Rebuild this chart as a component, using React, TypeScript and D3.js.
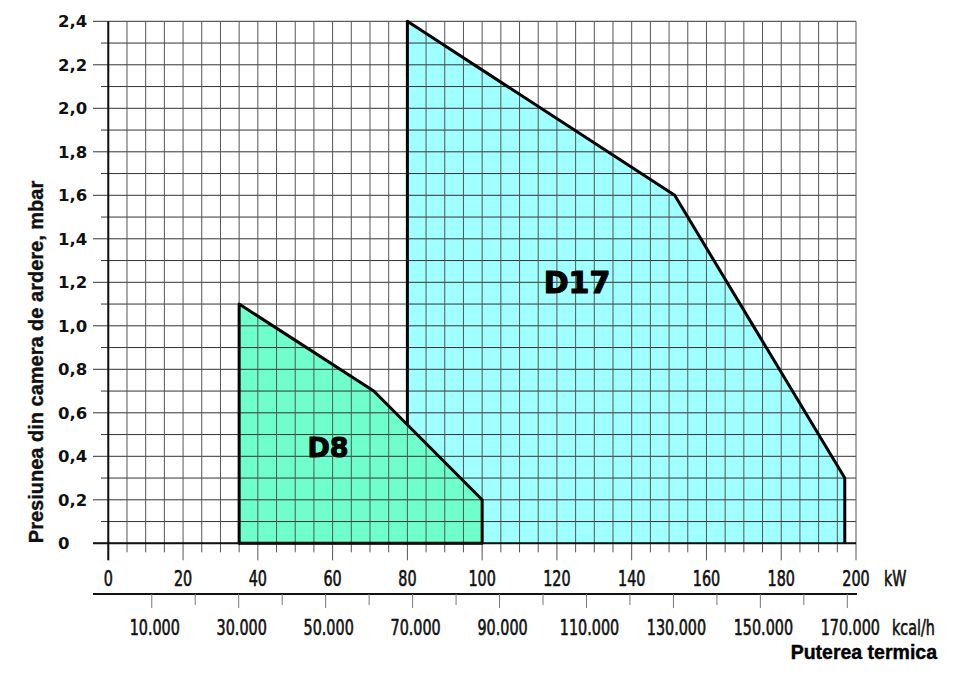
import * as d3 from "d3";

// kW axis labels (top bottom axis)
const KW_TICKS = [0, 20, 40, 60, 80, 100, 120, 140, 160, 180, 200];
// pressure axis labels (mbar)
const MBAR_TICKS = [0, 0.2, 0.4, 0.6, 0.8, 1.0, 1.2, 1.4, 1.6, 1.8, 2.0, 2.2, 2.4];
const MBAR_LABELS = ["0", "0,2", "0,4", "0,6", "0,8", "1,0", "1,2", "1,4", "1,6", "1,8", "2,0", "2,2", "2,4"];
// kcal/h axis
const KCAL_LABELED = [10000, 30000, 50000, 70000, 90000, 110000, 130000, 150000, 170000];
const KCAL_MINOR = [20000, 40000, 60000, 80000, 100000, 120000, 140000, 160000];
const KCAL_LABELS = ["10.000", "30.000", "50.000", "70.000", "90.000", "110.000", "130.000", "150.000", "170.000"];

// working fields
const D8_KW = [35, 35, 71, 100, 100];
const D8_MBAR = [0, 1.1, 0.7, 0.2, 0];
const D17_KW = [80, 80, 151.5, 197, 197];
const D17_MBAR = [0, 2.4, 1.6, 0.3, 0];

const KW_PER_KCAL = 1 / 860;

const width = 960;
const height = 673;

const narrow = "'DejaVu Sans Condensed', 'DejaVu Sans', sans-serif";
const squeeze = 0.76;

// condensed text: the installed fonts are too wide, so squeeze horizontally
const Narrow = ({ x, y, anchor = "start", children }: { x: number; y: number; anchor?: string; children: any }) => (
  <text
    transform={`translate(${x},${y}) scale(${squeeze},1)`}
    textAnchor={anchor}
    fontFamily={narrow}
    fontSize={21}
    fill="#111"
    stroke="#111"
    strokeWidth={0.6}
  >
    {children}
  </text>
);

export default function App() {
  const x = d3.scaleLinear().domain([0, 200]).range([108.3, 856]);
  const y = d3.scaleLinear().domain([0, 2.4]).range([543.3, 21.3]);

  const area = d3
    .line<[number, number]>()
    .x((d) => x(d[0]))
    .y((d) => y(d[1]));

  const d8 = D8_KW.map((k, i) => [k, D8_MBAR[i]] as [number, number]);
  const d17 = D17_KW.map((k, i) => [k, D17_MBAR[i]] as [number, number]);

  const vGrid = d3.range(0, 201, 5);
  const hGrid = d3.range(0, 25, 1).map((i) => i / 10);

  const kcalY = 594;

  return (
    <svg
      width={width}
      height={height}
      style={{ position: "absolute", left: 0, top: 0, background: "#fff" }}
    >
      <defs>
        <clipPath id="noD8">
          <path d={`M0,0H${width}V${height}H0Z` + area(d8) + "Z"} clipRule="evenodd" />
        </clipPath>
      </defs>

      {/* fields */}
      <path d={area(d17) + "Z"} fill="#a0ffff" />
      <path d={area(d8) + "Z"} fill="#6effcc" />

      {/* grid */}
      <g>
        {hGrid.map((v, i) => (
          <line
            key={"h" + i}
            x1={i % 2 === 0 ? 93 : 101}
            x2={x(200)}
            y1={y(v)}
            y2={y(v)}
            stroke="#333"
            strokeWidth={1}
          />
        ))}
        {vGrid.map((v, i) => (
          <line
            key={"v" + i}
            x1={x(v)}
            x2={x(v)}
            y1={y(2.4)}
            y2={y(0) + (v % 20 === 0 ? 17 : 9)}
            stroke="#555"
            strokeWidth={1}
          />
        ))}
      </g>

      {/* outlines over grid */}
      <path d={area(d17)} fill="none" stroke="#000" strokeWidth={3} strokeLinejoin="round" clipPath="url(#noD8)" />
      <path d={area(d8) + "Z"} fill="none" stroke="#000" strokeWidth={3} strokeLinejoin="round" />

      {/* axes */}
      <line x1={x(0)} x2={x(0)} y1={y(2.4)} y2={y(0) + 17} stroke="#111" strokeWidth={2} />
      <line x1={93} x2={x(200)} y1={y(0)} y2={y(0)} stroke="#111" strokeWidth={2} />

      {/* y tick labels */}
      {MBAR_TICKS.map((v, i) => (
        <text
          key={"yl" + i}
          x={58}
          y={y(v)}
          dy="0.36em"
          fontFamily="'DejaVu Sans', sans-serif"
          fontWeight="bold"
          fontSize={16.5}
          fill="#111"
        >
          {MBAR_LABELS[i]}
        </text>
      ))}

      <text
        transform={`translate(43,362) rotate(-90)`}
        textAnchor="middle"
        fontFamily="'Liberation Sans', Arial, sans-serif"
        fontWeight="bold"
        fontSize={20}
        stroke="#111"
        strokeWidth={0.4}
        fill="#111"
      >
        Presiunea din camera de ardere, mbar
      </text>

      {/* kW labels */}
      {KW_TICKS.map((v) => (
        <Narrow key={"kw" + v} x={x(v)} y={586} anchor="middle">
          {v}
        </Narrow>
      ))}
      <Narrow x={884} y={586}>kW</Narrow>

      {/* kcal/h axis */}
      <line x1={93} x2={857} y1={kcalY} y2={kcalY} stroke="#111" strokeWidth={2} />
      {KCAL_LABELED.map((v) => (
        <line key={"kt" + v} x1={x(v * KW_PER_KCAL)} x2={x(v * KW_PER_KCAL)} y1={kcalY} y2={kcalY + 14} stroke="#777" strokeWidth={1} />
      ))}
      {KCAL_MINOR.map((v) => (
        <line key={"km" + v} x1={x(v * KW_PER_KCAL)} x2={x(v * KW_PER_KCAL)} y1={kcalY} y2={kcalY + 11} stroke="#777" strokeWidth={1} />
      ))}
      {KCAL_LABELED.map((v, i) => (
        <Narrow key={"kl" + v} x={x(v * KW_PER_KCAL) + 3} y={635} anchor="middle">
          {KCAL_LABELS[i]}
        </Narrow>
      ))}
      <Narrow x={892} y={635}>kcal/h</Narrow>
      <text
        x={937}
        y={659}
        textAnchor="end"
        fontFamily="'Liberation Sans', Arial, sans-serif"
        fontWeight="bold"
        fontSize={19.5}
        stroke="#000"
        strokeWidth={0.4}
        fill="#000"
      >
        Puterea termica
      </text>

      {/* field labels */}
      <text x={328} y={447} dy="0.36em" textAnchor="middle" fontFamily="'DejaVu Sans', sans-serif"
        fontWeight="bold" fontSize={27} stroke="#000" strokeWidth={1} strokeLinejoin="round" fill="#000">
        D8
      </text>
      <text x={577} y={282} dy="0.36em" textAnchor="middle" fontFamily="'DejaVu Sans', sans-serif"
        fontWeight="bold" fontSize={30} stroke="#000" strokeWidth={1.2} strokeLinejoin="round" fill="#000">
        D17
      </text>
    </svg>
  );
}
